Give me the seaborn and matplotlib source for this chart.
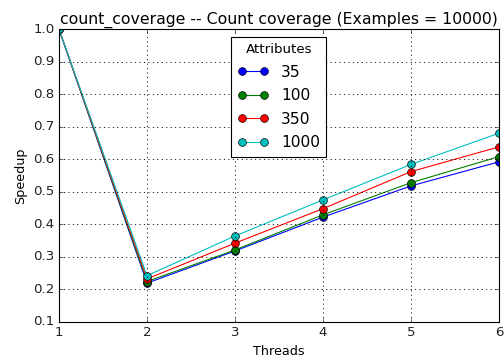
import matplotlib
matplotlib.use("Agg")
import matplotlib.pyplot as plt
import seaborn as sns
import pandas as pd

threads = [1, 2, 3, 4, 5, 6]
attributes = ["35", "100", "350", "1000"]
speedup_35 = [1.0, 0.219, 0.318, 0.422, 0.518, 0.592]
speedup_100 = [1.0, 0.224, 0.321, 0.429, 0.528, 0.608]
speedup_350 = [1.0, 0.232, 0.342, 0.448, 0.562, 0.638]
speedup_1000 = [1.0, 0.242, 0.364, 0.475, 0.584, 0.680]
colors = ["#0000ff", "#008000", "#ff0000", "#00bfbf"]

plt.style.use("classic")
plt.rcParams["font.family"] = ["DejaVu Sans"]

rows = []
for attr, vals in zip(attributes, [speedup_35, speedup_100, speedup_350, speedup_1000]):
    for t, v in zip(threads, vals):
        rows.append({"Threads": t, "Speedup": v, "Attributes": attr})
df = pd.DataFrame(rows)

fig = plt.figure(figsize=(6.3, 4.5), dpi=80)
ax = fig.add_axes([0.117, 0.106, 0.873, 0.813])
sns.lineplot(data=df, x="Threads", y="Speedup", hue="Attributes",
             hue_order=attributes, palette=colors, marker="o",
             markersize=7, markeredgecolor="black", markeredgewidth=0.6,
             linewidth=1.0, legend=False, ax=ax, errorbar=None)

ax.set_xlim(1, 6)
ax.set_ylim(0.1, 1.0)
ax.set_xticks(threads)
ax.set_yticks([0.1, 0.2, 0.3, 0.4, 0.5, 0.6, 0.7, 0.8, 0.9, 1.0])
ax.grid(True, linestyle=":", color="black", linewidth=0.8)
ax.set_title("count_coverage -- Count coverage (Examples = 10000)", fontsize=14.2)
ax.set_xlabel("Threads", fontsize=11.5)
ax.set_ylabel("Speedup", fontsize=11.5)
ax.tick_params(labelsize=12, labelcolor="#222222")

handles = ax.lines[:len(attributes)]
leg = ax.legend(handles, attributes, title="Attributes", loc="upper center",
                numpoints=2, fontsize=14, title_fontsize=12, frameon=True,
                fancybox=False, labelspacing=0.55)
leg.get_frame().set_edgecolor("black")

fig.savefig("out.png", dpi=80)
